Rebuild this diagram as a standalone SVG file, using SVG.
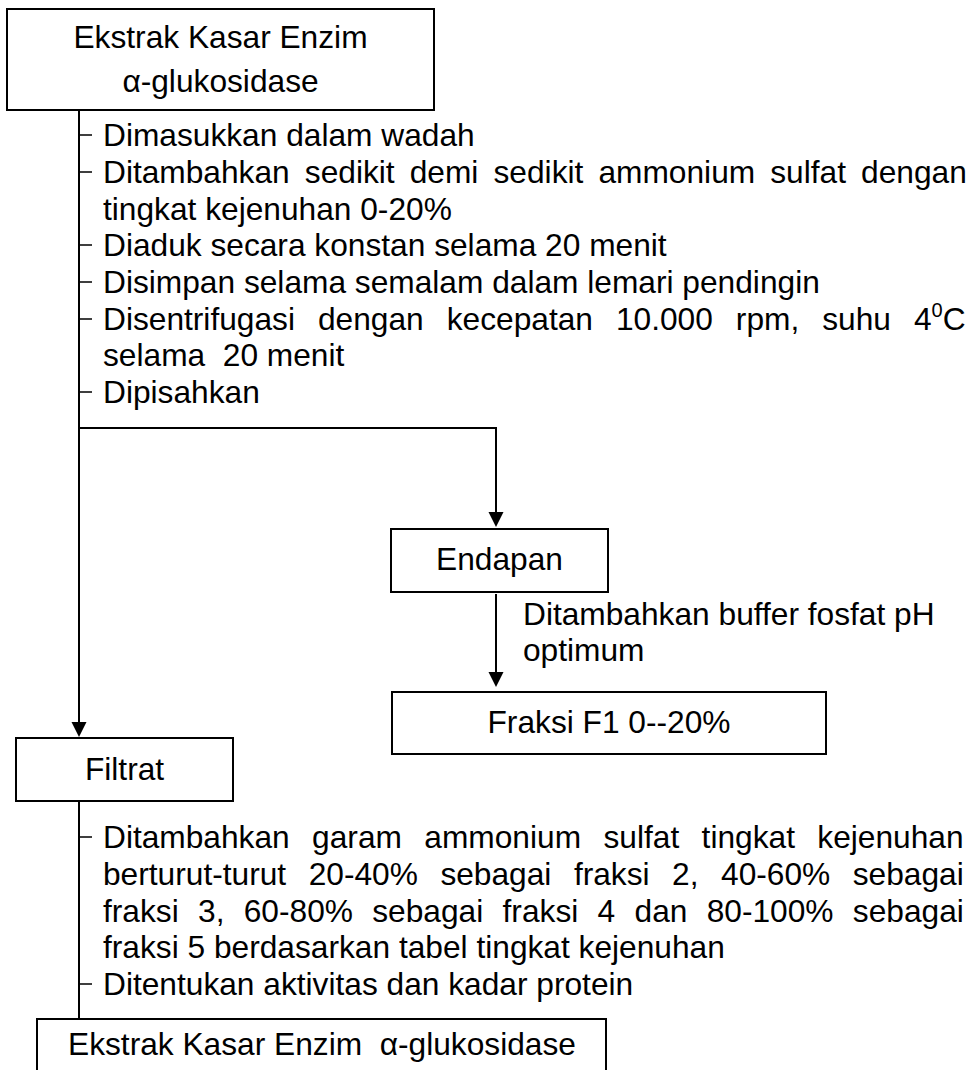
<svg xmlns="http://www.w3.org/2000/svg" width="974" height="1070" viewBox="0 0 974 1070">
<style>
  .box { fill: #ffffff; stroke: #000000; stroke-width: 2; }
  .ln { fill: none; stroke: #000000; stroke-width: 2; }
  .tk { fill: none; stroke: #000000; stroke-width: 1.5; }
  .ah { fill: #000000; stroke: none; }
  text { font-family: "Liberation Sans", Arial, sans-serif; font-size: 31.7px; fill: #000000; }
  .c { text-anchor: middle; }
</style>
<rect width="974" height="1070" fill="#ffffff"/>

<g id="connectors">
  <!-- main left spine from top box to Filtrat -->
  <path class="ln" d="M79 110 V722"/>
  <path class="ln" d="M79 428 H496 V513"/>
  <polygon class="ah" points="488.5,512 503.5,512 496,527"/>
  <polygon class="ah" points="71.5,722 86.5,722 79,737"/>
  <!-- Endapan to Fraksi -->
  <path class="ln" d="M496 594 V673"/>
  <polygon class="ah" points="488.5,672 503.5,672 496,687"/>
  <!-- Filtrat to bottom box -->
  <path class="ln" d="M79 801 V1019"/>
  <!-- step ticks -->
  <path class="tk" d="M79 135 H92 M79 172 H92 M79 245 H92 M79 282 H92 M79 319 H92 M79 392 H92"/>
  <path class="tk" d="M79 837 H92 M79 984 H92"/>
</g>

<g id="node-ekstrak-top">
  <rect class="box" x="7" y="9" width="427" height="101"/>
  <text class="c" x="220.5" y="48">Ekstrak Kasar Enzim</text>
  <text class="c" x="220.5" y="92">α-glukosidase</text>
</g>

<g id="steps-top">
  <text x="103" y="146">Dimasukkan dalam wadah</text>
  <text x="103" y="183" word-spacing="6.3">Ditambahkan sedikit demi sedikit ammonium sulfat dengan</text>
  <text x="103" y="220">tingkat kejenuhan 0-20%</text>
  <text x="103" y="256">Diaduk secara konstan selama 20 menit</text>
  <text x="103" y="293">Disimpan selama semalam dalam lemari pendingin</text>
  <text x="103" y="330" word-spacing="14.2">Disentrifugasi dengan kecepatan 10.000 rpm, suhu 4<tspan font-size="20" dy="-13">0</tspan><tspan dy="13">C</tspan></text>
  <text x="103" y="366" style="white-space:pre">selama  20 menit</text>
  <text x="103" y="403">Dipisahkan</text>
</g>

<g id="node-endapan">
  <rect class="box" x="391" y="529" width="217" height="63"/>
  <text class="c" x="499.5" y="570">Endapan</text>
</g>

<g id="label-buffer">
  <text x="523" y="625">Ditambahkan buffer fosfat pH</text>
  <text x="523" y="661">optimum</text>
</g>

<g id="node-fraksi">
  <rect class="box" x="392" y="692" width="434" height="62"/>
  <text class="c" x="609" y="733">Fraksi F1 0--20%</text>
</g>

<g id="node-filtrat">
  <rect class="box" x="16" y="738" width="217" height="63"/>
  <text class="c" x="124.5" y="780">Filtrat</text>
</g>

<g id="steps-bottom">
  <text x="103" y="848" word-spacing="13.6">Ditambahkan garam ammonium sulfat tingkat kejenuhan</text>
  <text x="103" y="885" word-spacing="13.7">berturut-turut 20-40% sebagai fraksi 2, 40-60% sebagai</text>
  <text x="103" y="922" word-spacing="10.5">fraksi 3, 60-80% sebagai fraksi 4 dan 80-100% sebagai</text>
  <text x="103" y="958">fraksi 5 berdasarkan tabel tingkat kejenuhan</text>
  <text x="103" y="995">Ditentukan aktivitas dan kadar protein</text>
</g>

<g id="node-ekstrak-bottom">
  <rect class="box" x="37" y="1019" width="569" height="80"/>
  <text x="68" y="1055" style="white-space:pre">Ekstrak Kasar Enzim  α-glukosidase</text>
</g>
</svg>
